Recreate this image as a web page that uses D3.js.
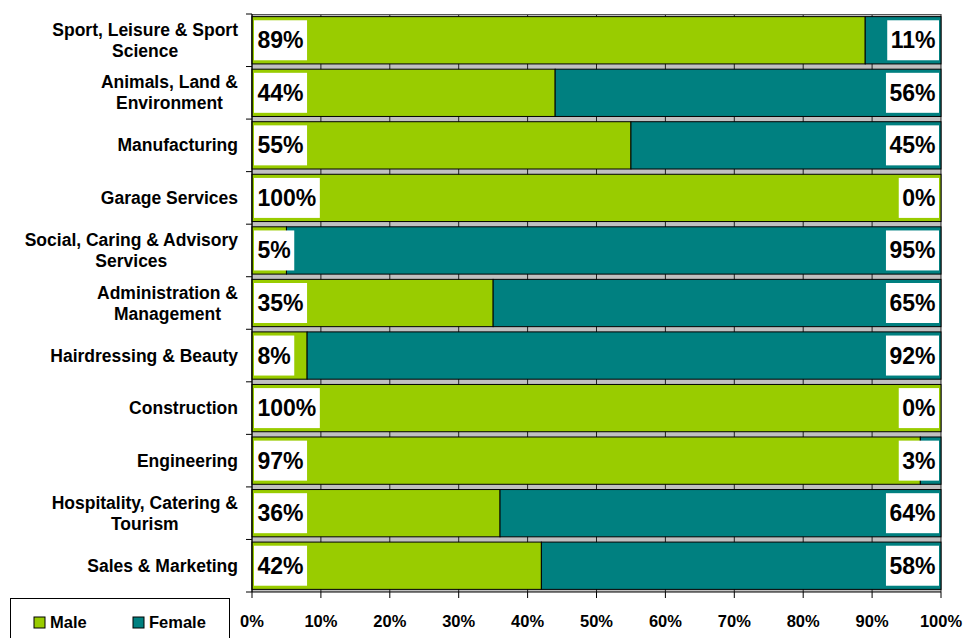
<!DOCTYPE html>
<html><head><meta charset="utf-8">
<script src="https://cdn.jsdelivr.net/npm/d3@7"></script>
<style>body{margin:0;background:#fff;} text{font-family:Arial,"Liberation Sans",sans-serif;font-weight:bold;}</style>
</head><body>
<svg id="c" width="965" height="638"></svg>
<script>
const categories = [
  ["Sport, Leisure & Sport","Science"],
  ["Animals, Land &","Environment"],
  ["Manufacturing"],
  ["Garage Services"],
  ["Social, Caring & Advisory","Services"],
  ["Administration &","Management"],
  ["Hairdressing & Beauty"],
  ["Construction"],
  ["Engineering"],
  ["Hospitality, Catering &","Tourism"],
  ["Sales & Marketing"]
];
const male   = [89,44,55,100,5,35,8,100,97,36,42];
const female = [11,56,45,0,95,65,92,0,3,64,58];
const xTicks = [0,10,20,30,40,50,60,70,80,90,100];
const seriesNames = ["Male","Female"];
const colors = ["#99CC00","#008080"];

const svg = d3.select("#c");
const L=252, R=941, T=14, B=592;
const idx = d3.range(categories.length);
const x = d3.scaleLinear().domain([0,100]).range([L,R]);
const y = d3.scaleBand().domain(idx).range([T,B]).paddingInner(0.1).paddingOuter(0.05);

// plot background
svg.append("rect").attr("x",L).attr("y",T).attr("width",R-L).attr("height",B-T).attr("fill","#C0C0C0");
// gridlines
svg.append("g").selectAll("line").data(xTicks).join("line")
  .attr("x1",d=>x(d)).attr("x2",d=>x(d)).attr("y1",T).attr("y2",B)
  .attr("stroke","#222").attr("stroke-width",1);
svg.append("line").attr("x1",L).attr("x2",R).attr("y1",T+0.5).attr("y2",T+0.5).attr("stroke","#555");

// bars
const g = svg.append("g");
idx.forEach(i=>{
  const vals=[male[i],female[i]];
  let acc=0;
  vals.forEach((v,s)=>{
    if(v>0){
      g.append("rect").attr("x",x(acc)).attr("y",y(i)).attr("width",x(acc+v)-x(acc)).attr("height",y.bandwidth())
        .attr("fill",colors[s]).attr("stroke","#000").attr("stroke-width",1);
    }
    acc+=v;
  });
});

// labels
const lg = svg.append("g");
function labelBox(txt, anchorX, cy, side){
  const t = lg.append("text").text(txt).attr("font-size",23).attr("y",cy+8);
  const w = t.node().getComputedTextLength();
  const bw = w+7, bh=40;
  const bx = side==="left" ? anchorX : anchorX-bw;
  lg.insert("rect","text").attr("x",bx).attr("y",cy-bh/2).attr("width",bw).attr("height",bh).attr("fill","#fff");
  t.attr("x",bx+3.5);
  t.raise();
}
idx.forEach(i=>{
  const cy = y(i)+y.bandwidth()/2;
  labelBox(male[i]+"%", x(0)+2, cy, "left");
  labelBox(female[i]+"%", x(100)-2, cy, "right");
});

// left axis
svg.append("line").attr("x1",L).attr("x2",L).attr("y1",T).attr("y2",B).attr("stroke","#000");
const step = (B-T)/categories.length;
svg.append("g").selectAll("line").data(d3.range(categories.length+1)).join("line")
  .attr("x1",L-6).attr("x2",L).attr("y1",d=>T+d*step).attr("y2",d=>T+d*step).attr("stroke","#000");
// category labels
idx.forEach(i=>{
  const cy = T+(i+0.5)*step;
  const lines = categories[i];
  const tg = svg.append("g");
  const lh=21;
  const ts = lines.map((ln,k)=>tg.append("text").text(ln).attr("font-size",17.5)
     .attr("text-anchor","middle").attr("y",cy+6+(k-(lines.length-1)/2)*lh));
  const maxW = d3.max(ts,t=>t.node().getComputedTextLength());
  ts.forEach(t=>t.attr("x",238-maxW/2));
});

// bottom axis
svg.append("line").attr("x1",L).attr("x2",R).attr("y1",B).attr("y2",B).attr("stroke","#000");
svg.append("g").selectAll("line").data(xTicks).join("line")
  .attr("x1",d=>x(d)).attr("x2",d=>x(d)).attr("y1",B).attr("y2",B+6).attr("stroke","#000");
svg.append("g").selectAll("text").data(xTicks).join("text")
  .attr("x",d=>x(d)).attr("y",627).attr("text-anchor","middle").attr("font-size",16.5).text(d=>d+"%");

// legend
svg.append("rect").attr("x",10.5).attr("y",598.5).attr("width",219).attr("height",50).attr("fill","#fff").attr("stroke","#000");
const lx=[34,133];
seriesNames.forEach((n,s)=>{
  svg.append("rect").attr("x",lx[s]).attr("y",617).attr("width",11).attr("height",11).attr("fill",colors[s]).attr("stroke","#000");
  svg.append("text").attr("x",lx[s]+16).attr("y",628).attr("font-size",16.5).text(n);
});
</script>
</body></html>
